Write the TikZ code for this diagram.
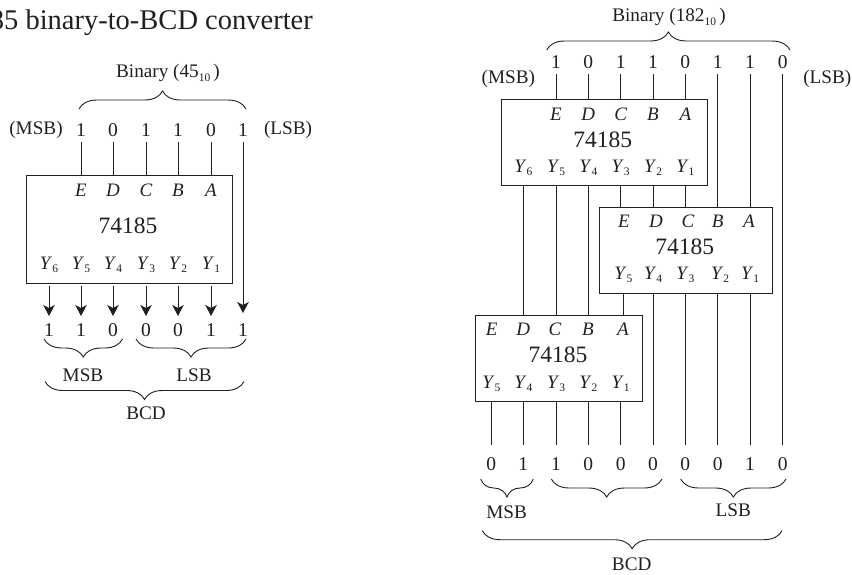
\documentclass[tikz,border=0pt]{standalone}
\usepackage{fontspec}
\setmainfont{Liberation Serif}
\usetikzlibrary{arrows.meta,decorations.pathreplacing}

\definecolor{ink}{RGB}{35,31,32}
\newcommand{\pinY}[1]{\textit{Y}\raisebox{-3.5pt}{\fontsize{11.5}{11.5}\selectfont #1}}
\newcommand{\subten}{\raisebox{-3.5pt}{\fontsize{11.5}{11.5}\selectfont 10}}

\tikzset{
  chip/.style={draw=ink, line width=1pt, inner sep=0pt},
  wire/.style={draw=ink, line width=1pt},
  wirearrow/.style={wire, -{Stealth[length=11pt,width=11.5pt,inset=3pt]}},
  digit/.style={inner sep=0pt, outer sep=5.5pt, text height=13pt, text depth=0pt, text=ink, font=\fontsize{19.5}{19.5}\selectfont},
  pin/.style={inner sep=0pt, text=ink, font=\fontsize{19}{19}\selectfont\itshape},
  pinout/.style={inner sep=0pt, text=ink, font=\fontsize{19}{19}\selectfont},
  part/.style={inner sep=0pt, text=ink, font=\fontsize{23.5}{23.5}\selectfont},
  caption/.style={inner sep=0pt, text=ink, font=\fontsize{19.2}{19.2}\selectfont},
  braceup/.style={draw=ink, line width=0.9pt, decorate, decoration={brace,amplitude=18pt}},
  bracedown/.style={draw=ink, line width=0.9pt, decorate, decoration={brace,mirror,amplitude=18pt}}
}

\begin{document}
\begin{tikzpicture}[x=1pt, y=-1pt]
  \useasboundingbox (0,0) rectangle (852,574);

  % Heading, cut by the page edge
  \node[inner sep=0pt, anchor=east, text=ink, font=\fontsize{28.5}{28.5}\selectfont] (heading) at (313,23) {85 binary-to-BCD converter};

  % ---- Left converter
  \node[chip, minimum width=205.5pt, minimum height=108pt] (boxl) at (129.25,229) {};
  \node[part] (partl) at (128,226) {74185};

  \foreach \x/\d [count=\i] in {81/1,113/0,146/1,178/1,211/0,243/1}
    \node[digit] (inl\i) at (\x,130) {\d};
  \foreach \x/\l [count=\i] in {81/E,113/D,146/C,178/B,211/A}
    \node[pin] (pinl\i) at (\x,190) {\l};
  \foreach \x/\l [count=\i] in {49/6,81/5,113/4,146/3,178/2,211/1}
    \node[pinout] (yl\i) at (\x,265) {\pinY{\l}};
  \foreach \x/\d [count=\i] in {49/1,81/1,113/0,146/0,178/0,211/1,243/1}
    \node[digit] (outl\i) at (\x,330) {\d};

  % Wires
  \foreach \i in {1,...,5}
    \draw[wire] (inl\i.south) -- (inl\i.south |- boxl.north);
  \foreach \i in {1,...,6}
    \draw[wirearrow, shorten >=2pt] (outl\i.north |- boxl.south) ++(0,2) -- (outl\i.north);
  \draw[wirearrow, shorten >=5pt] (inl6.south) -- (outl7.north);

  % Labels and braces
  \node[caption] (binl) at (168,73) {Binary (45\subten\,)};
  \node[caption] (msbl) at (36,130) {(MSB)};
  \node[caption] (lsbl) at (288,130) {(LSB)};
  \draw[braceup] (79,109) -- (246,109);
  \draw[bracedown] (44,339) -- (122.5,339);
  \draw[bracedown] (136,339) -- (246,339);
  \node[caption] (bcdmsbl) at (83,375) {MSB};
  \node[caption] (bcdlsbl) at (194,375) {LSB};
  \draw[bracedown] (45,381.5) -- (244,381.5);
  \node[caption] (bcdl) at (146,413) {BCD};

  % ---- Right converter
  \node[chip, minimum width=205.6pt, minimum height=85.8pt] (boxa) at (604.5,142.4) {};
  \node[chip, minimum width=173pt, minimum height=86pt] (boxb) at (685.8,250.3) {};
  \node[chip, minimum width=167.7pt, minimum height=86.7pt] (boxc) at (558.85,358.35) {};
  \node[part] (parta) at (602.7,140) {74185};
  \node[part] (partb) at (684.7,247) {74185};
  \node[part] (partc) at (558,355) {74185};

  \foreach \x/\d [count=\i] in {556/1,588.3/0,620.7/1,653/1,685.3/0,717.7/1,750/1,782.7/0}
    \node[digit] (ina\i) at (\x,62) {\d};
  \foreach \x/\d [count=\i] in {491.3/0,523.3/1,556/1,588.3/0,620.7/0,653/0,685.3/0,717.7/0,750/1,782.7/0}
    \node[digit] (outa\i) at (\x,464) {\d};

  \foreach \x/\l [count=\i] in {556/E,588.3/D,620.7/C,653/B,685.3/A}
    \node[pin] (pina\i) at (\x,114) {\l};
  \foreach \x/\l [count=\i] in {523.3/6,556/5,588.3/4,620.7/3,653/2,685.3/1}
    \node[pinout] (ya\i) at (\x,168) {\pinY{\l}};
  \foreach \x/\l [count=\i] in {624/E,656/D,688/C,717.7/B,749/A}
    \node[pin] (pinb\i) at (\x,221) {\l};
  \foreach \x/\l [count=\i] in {623.3/5,653/4,685.3/3,720/2,750/1}
    \node[pinout] (yb\i) at (\x,275) {\pinY{\l}};
  \foreach \x/\l [count=\i] in {491.7/E,523.3/D,555/C,588/B,623/A}
    \node[pin] (pinc\i) at (\x,329) {\l};
  \foreach \x/\l [count=\i] in {491.3/5,523.3/4,556/3,588.3/2,620.7/1}
    \node[pinout] (yc\i) at (\x,384) {\pinY{\l}};

  % Wires into the first chip
  \foreach \i in {1,...,5}
    \draw[wire] (ina\i.south) -- (ina\i.south |- boxa.north);
  % Wires between the chips
  \foreach \i in {3,4,5}
    \draw[wire] (ina\i.south |- boxa.south) -- (ina\i.south |- boxb.north);
  \foreach \i in {6,7}
    \draw[wire] (ina\i.south) -- (ina\i.south |- boxb.north);
  \foreach \i in {1,2,3}
    \draw[wire] (ya\i.south |- boxa.south) -- (ya\i.south |- boxc.north);
  \draw[wire] (yb1.south |- boxb.south) -- (yb1.south |- boxc.north);
  % Wires down to the result
  \foreach \i in {1,...,5}
    \draw[wire, shorten >=7pt] (outa\i.north |- boxc.south) -- (outa\i.north);
  \foreach \i in {6,...,9}
    \draw[wire, shorten >=7pt] (outa\i.north |- boxb.south) -- (outa\i.north);
  \draw[wire, shorten >=7pt] (ina8.south) -- (outa10.north);

  % Labels and braces
  \node[caption] (binr) at (669,17) {Binary (182\subten\,)};
  \node[caption] (msbr) at (508.3,79.3) {(MSB)};
  \node[caption] (lsbr) at (827.3,79.3) {(LSB)};
  \draw[braceup] (546.7,50) -- (790,50);
  \draw[bracedown] (480.7,479) -- (533.3,479);
  \draw[bracedown] (551.3,479) -- (662,479);
  \draw[bracedown] (680.7,479) -- (786,479);
  \node[caption] (bcdmsbr) at (506.7,512.7) {MSB};
  \node[caption] (bcdlsbr) at (733.3,510.7) {LSB};
  \draw[bracedown] (482.3,530.7) -- (782,530.7);
  \node[caption] (bcdr) at (631.7,564) {BCD};

\end{tikzpicture}
\end{document}
